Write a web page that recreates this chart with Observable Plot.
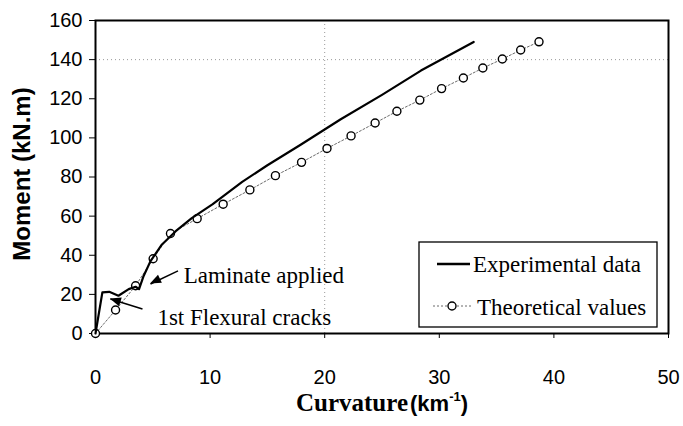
<!DOCTYPE html>
<html>
<head>
<meta charset="utf-8">
<script src="https://cdn.jsdelivr.net/npm/d3@7"></script>
<script src="https://cdn.jsdelivr.net/npm/@observablehq/plot@0.6"></script>
<style>
  body { margin: 0; background: #fff; }
  #chart { position: relative; width: 683px; height: 426px; }
</style>
</head>
<body>
<div id="chart"></div>
<script>
// Experimental moment-curvature curve
const expCurv = [0, 0.6, 1.2, 2.0, 2.9, 3.5, 3.8, 4.2, 4.8, 5.8, 7.0, 8.4, 10.2, 12.8, 15, 17.9, 21.4, 25, 28.4, 33];
const expMoment = [0, 21, 21.3, 19.3, 22.7, 23.9, 22.7, 29.4, 37, 45.5, 52.3, 59, 66, 77.5, 86, 96.5, 109.5, 122, 134.4, 149];

// Theoretical values
const thCurv = [0, 1.75, 3.5, 5.03, 6.54, 8.87, 11.14, 13.47, 15.7, 17.98, 20.2, 22.3, 24.4, 26.3, 28.3, 30.2, 32.1, 33.8, 35.5, 37.1, 38.7];
const thMoment = [0, 12, 24.4, 38.2, 51.1, 58.7, 66.1, 73.4, 80.7, 87.5, 94.6, 101, 107.6, 113.6, 119.3, 125.2, 130.6, 135.7, 140.3, 144.9, 149.1];

const xTicks = [0, 10, 20, 30, 40, 50];
const yTicks = [0, 20, 40, 60, 80, 100, 120, 140, 160];

// Annotations (data units)
const noteText = ["Laminate applied", "1st Flexural cracks"];
const noteX = [7.7, 5.4];
const noteY = [29.4, 8.3];
const arrowX1 = [7.2, 4.1];
const arrowY1 = [32, 12.5];
const arrowX2 = [4.8, 1.3];
const arrowY2 = [25.3, 17.6];

const exp = expCurv.map((c, i) => ({c, m: expMoment[i]}));
const th = thCurv.map((c, i) => ({c, m: thMoment[i]}));
const notes = noteText.map((t, i) => ({t, x: noteX[i], y: noteY[i], x1: arrowX1[i], y1: arrowY1[i], x2: arrowX2[i], y2: arrowY2[i]}));

const plot = Plot.plot({
  width: 683,
  height: 426,
  marginLeft: 95,
  marginRight: 15,
  marginTop: 20,
  marginBottom: 93,
  style: {fontFamily: "Liberation Sans, Arial, sans-serif", fontSize: "20px", color: "#000", background: "#fff"},
  x: {domain: [0, 50]},
  y: {domain: [0, 160]},
  marks: [
    Plot.ruleY([140], {stroke: "#999", strokeDasharray: "1,3", strokeWidth: 1}),
    Plot.ruleX([20], {stroke: "#999", strokeDasharray: "1,3", strokeWidth: 1}),
    Plot.frame({stroke: "#000", strokeWidth: 2}),
    Plot.axisY({ticks: yTicks, tickSize: 6, tickPadding: 7, label: null, fontSize: 20}),
    Plot.axisX({ticks: xTicks, tickSize: 5, tickPadding: 31, label: null, fontSize: 20}),
    Plot.line(th, {x: "c", y: "m", stroke: "#444", strokeWidth: 0.8, strokeDasharray: "2,2"}),
    Plot.dot(th, {x: "c", y: "m", r: 4, stroke: "#000", strokeWidth: 1.4, fill: "#fff"}),
    Plot.line(exp, {x: "c", y: "m", stroke: "#000", strokeWidth: 2.2}),
    Plot.link(notes, {x1: "x1", y1: "y1", x2: "x2", y2: "y2", stroke: "#000", strokeWidth: 1.5}),
    Plot.text(notes, {x: "x", y: "y", text: "t", textAnchor: "start", lineAnchor: "middle", fontFamily: "Liberation Serif, Times New Roman, serif", fontSize: 23, fill: "#000"})
  ]
});

document.getElementById("chart").appendChild(plot);

const svg = d3.select(plot);
const sx = plot.scale("x"), sy = plot.scale("y");

// Filled arrowheads, oriented along each annotation link
notes.forEach(n => {
  const hx = sx.apply(n.x2), hy = sy.apply(n.y2);
  const tx = sx.apply(n.x1), ty = sy.apply(n.y1);
  const len = Math.hypot(hx - tx, hy - ty);
  const ux = (hx - tx) / len, uy = (hy - ty) / len;
  const L = 11, W = 4.5;
  const bx = hx - ux * L, by = hy - uy * L;
  const pts = [[hx, hy], [bx - uy * W, by + ux * W], [bx + uy * W, by - ux * W]];
  svg.append("polygon").attr("points", pts.map(p => p.join(",")).join(" ")).attr("fill", "#000");
});

// Y axis label
svg.append("text")
  .attr("transform", "translate(30,174) rotate(-90)")
  .attr("text-anchor", "middle")
  .attr("font-family", "Liberation Sans, Arial, sans-serif")
  .attr("font-weight", "bold")
  .attr("font-size", 24)
  .attr("fill", "#000")
  .text("Moment (kN.m)");

// X axis label
const xl = svg.append("text")
  .attr("x", 382)
  .attr("y", 411)
  .attr("text-anchor", "middle")
  .attr("fill", "#000");
xl.append("tspan").attr("font-family", "Liberation Serif, Times New Roman, serif").attr("font-weight", "bold").attr("font-size", 25).text("Curvature");
xl.append("tspan").attr("font-family", "Liberation Sans, Arial, sans-serif").attr("font-weight", "bold").attr("font-size", 22).attr("dx", 2).text("(km");
xl.append("tspan").attr("font-family", "Liberation Sans, Arial, sans-serif").attr("font-weight", "bold").attr("font-size", 13).attr("dy", -10).text("-1");
xl.append("tspan").attr("font-family", "Liberation Sans, Arial, sans-serif").attr("font-weight", "bold").attr("font-size", 22).attr("dy", 10).text(")");

// Legend
const lg = svg.append("g").attr("text-anchor", "start");
lg.append("rect").attr("x", 419).attr("y", 242).attr("width", 238).attr("height", 85)
  .attr("fill", "#fff").attr("stroke", "#000").attr("stroke-width", 1.3);
lg.append("line").attr("x1", 437).attr("x2", 470).attr("y1", 264).attr("y2", 264)
  .attr("stroke", "#000").attr("stroke-width", 2.5);
lg.append("text").attr("x", 473).attr("y", 272).attr("text-anchor", "start")
  .attr("font-family", "Liberation Serif, Times New Roman, serif").attr("font-size", 23).attr("fill", "#000")
  .text("Experimental data");
lg.append("line").attr("x1", 433).attr("x2", 472).attr("y1", 306).attr("y2", 306)
  .attr("stroke", "#444").attr("stroke-width", 0.8).attr("stroke-dasharray", "2,2");
lg.append("circle").attr("cx", 452).attr("cy", 306).attr("r", 4)
  .attr("fill", "#fff").attr("stroke", "#000").attr("stroke-width", 1.4);
lg.append("text").attr("x", 477).attr("y", 315).attr("text-anchor", "start")
  .attr("font-family", "Liberation Serif, Times New Roman, serif").attr("font-size", 23).attr("fill", "#000")
  .text("Theoretical values");
</script>
</body>
</html>
